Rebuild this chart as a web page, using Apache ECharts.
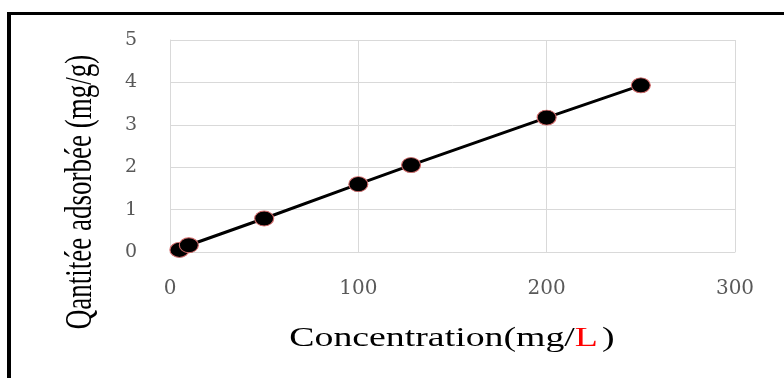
<!DOCTYPE html>
<html>
<head>
<meta charset="utf-8">
<script src="https://cdn.jsdelivr.net/npm/echarts@6/dist/echarts.min.js"></script>
<style>
  html, body { margin: 0; padding: 0; background: #ffffff; }
  #chart { width: 784px; height: 378px; }
</style>
</head>
<body>
<div id="chart"></div>
<script>
// Adsorbed quantity versus concentration
const concentration = [5, 10, 50, 100, 128, 200, 250];          // mg/L
const adsorbed = [0.05, 0.16, 0.79, 1.60, 2.05, 3.17, 3.93];     // mg/g

const xAxisRange = { min: 0, max: 300, step: 100 };
const yAxisRange = { min: 0, max: 5, step: 1 };

const xTitleParts = ['Concentration(mg/', 'L', ')'];
const yTitle = 'Qantitée adsorbée (mg/g)';

const points = concentration.map((c, i) => [c, adsorbed[i]]);

const chart = echarts.init(document.getElementById('chart'), null, { renderer: 'canvas' });

const gridColor = '#d9d9d9';
const labelColor = '#595959';

chart.setOption({
  animation: false,
  backgroundColor: '#ffffff',
  grid: { left: 170, right: 49, top: 40, bottom: 126, containLabel: false },
  xAxis: {
    type: 'value',
    min: xAxisRange.min,
    max: xAxisRange.max,
    interval: xAxisRange.step,
    axisLine: { show: true, lineStyle: { color: gridColor, width: 1 } },
    axisTick: { show: false },
    splitLine: { show: true, lineStyle: { color: gridColor, width: 1 } },
    axisLabel: { color: labelColor, fontFamily: 'DejaVu Serif', fontSize: 20, margin: 27 }
  },
  yAxis: {
    type: 'value',
    min: yAxisRange.min,
    max: yAxisRange.max,
    interval: yAxisRange.step,
    axisLine: { show: true, lineStyle: { color: gridColor, width: 1 } },
    axisTick: { show: false },
    splitLine: { show: true, lineStyle: { color: gridColor, width: 1 } },
    axisLabel: { color: labelColor, fontFamily: 'DejaVu Serif', fontSize: 19, margin: 33 }
  },
  series: [{
    type: 'line',
    data: points,
    lineStyle: { color: '#000000', width: 3 },
    symbol: 'circle',
    symbolSize: [19, 15],
    itemStyle: { color: '#000000', borderColor: '#d46a6a', borderWidth: 1 },
    z: 3
  }],
  graphic: [
    // frame around the figure (top and left edges)
    { type: 'line', silent: true, shape: { x1: 7, y1: 13.5, x2: 784, y2: 13.5 }, style: { stroke: '#000000', lineWidth: 3 } },
    { type: 'line', silent: true, shape: { x1: 9, y1: 12, x2: 9, y2: 378 }, style: { stroke: '#000000', lineWidth: 4 } },
    // x axis title
    {
      type: 'text', x: 452, y: 339, scaleX: 1.4, scaleY: 1,
      style: {
        text: '{a|' + xTitleParts[0] + '}{r|' + xTitleParts[1] + '}{a|' + xTitleParts[2] + '}',
        textAlign: 'center', textVerticalAlign: 'middle',
        rich: {
          a: { fontFamily: 'Liberation Serif', fontSize: 27, fill: '#000000' },
          r: { fontFamily: 'Liberation Serif', fontSize: 27, fill: '#ff0000', padding: [0, 3, 0, 0] }
        }
      }
    },
    // y axis title
    {
      type: 'text', x: 81, y: 192, rotation: Math.PI / 2, scaleX: 1, scaleY: 1.4,
      style: {
        text: yTitle, fontFamily: 'Liberation Serif', fontSize: 27, fill: '#000000',
        textAlign: 'center', textVerticalAlign: 'middle'
      }
    }
  ]
});
</script>
</body>
</html>
